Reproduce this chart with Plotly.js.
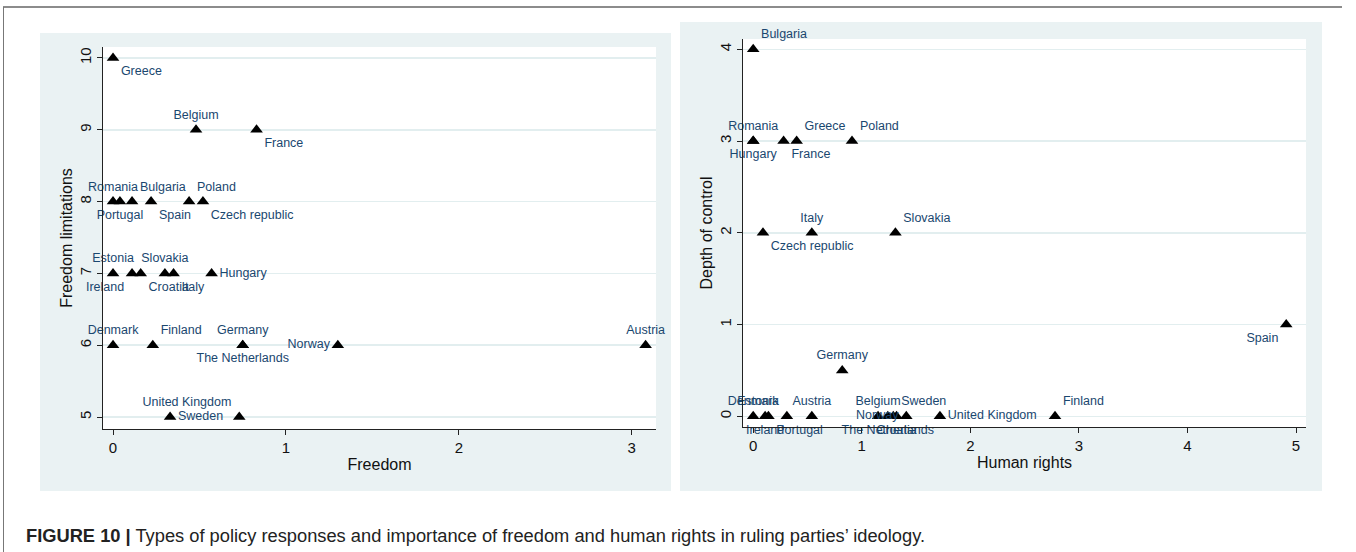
<!DOCTYPE html>
<html>
<head>
<meta charset="utf-8">
<script src="https://cdn.plot.ly/plotly-3.0.1.min.js"></script>
<style>
html,body{margin:0;padding:0;background:#fff;}
#chart{width:1356px;height:552px;}
</style>
</head>
<body>
<div id="chart"></div>
<script>
// ---------- DATA ----------
const leftCountries = ["Greece","Belgium","France","Romania","Portugal","Bulgaria","Spain","Poland","Czech republic","Estonia","Ireland","Croatia","Slovakia","Italy","Hungary","Denmark","Finland","Germany","The Netherlands","Norway","Austria","Sweden","United Kingdom"];
const freedom = [0, 0.48, 0.83, 0, 0.04, 0.11, 0.22, 0.44, 0.52, 0, 0.11, 0.16, 0.30, 0.35, 0.57, 0, 0.23, 0.75, 0.75, 1.30, 3.08, 0.33, 0.73];
const freedomLimitations = [10, 9, 9, 8, 8, 8, 8, 8, 8, 7, 7, 7, 7, 7, 7, 6, 6, 6, 6, 6, 6, 5, 5];

const rightCountries = ["Bulgaria","Romania","Hungary","France","Greece","Poland","Czech republic","Italy","Slovakia","Spain","Germany","Denmark","Ireland","Portugal","Estonia","Austria","Belgium","The Netherlands","Sweden","Croatia","Norway","United Kingdom","Finland"];
const humanRights = [0, 0, 0, 0.28, 0.40, 0.91, 0.09, 0.54, 1.31, 4.91, 0.82, 0, 0.11, 0.14, 0.31, 0.54, 1.15, 1.24, 1.29, 1.32, 1.41, 1.72, 2.78];
const depthOfControl = [4, 3, 3, 3, 3, 3, 2, 2, 2, 1, 0.5, 0, 0, 0, 0, 0, 0, 0, 0, 0, 0, 0, 0];

const leftXTicks = [0, 1, 2, 3];
const leftYTicks = [5, 6, 7, 8, 9, 10];
const rightXTicks = [0, 1, 2, 3, 4, 5];
const rightYTicks = [0, 1, 2, 3, 4];

const captionBold = "FIGURE 10 |";
const captionText = " Types of policy responses and importance of freedom and human rights in ruling parties’ ideology.";

// ---------- LABEL PLACEMENT (style) ----------
const leftLabelPos = ["bottom right","top center","bottom right","top center","bottom center","top right","bottom right","top right","bottom right","top center","bottom left","bottom right","top center","bottom right","middle right","top center","top right","top center","bottom center","middle left","top center","middle right","top left"];
const rightLabelPos = ["top right","top center","bottom center","bottom right","top right","top right","bottom right","top center","top right","bottom left","top center","top center","bottom center","bottom right","top left","top center","top center","bottom center","top right","bottom center","middle left","middle right","top right"];

// ---------- LAYOUT HELPERS ----------
const W = 1356, H = 552;
const fx = p => p / W;
const fy = p => 1 - p / H;
const FONT = "Liberation Sans, Arial, sans-serif";
const LABEL_COLOR = "#1a476f";
const PANEL = "#eaf2f3";
const GRID = "#e2eeef";

const markerStyle = {symbol: "triangle-up", size: 11, color: "#000"};
const textStyle = {family: FONT, size: 12.5, color: LABEL_COLOR};

const traces = [
  {
    type: "scatter", mode: "markers+text",
    x: freedom, y: freedomLimitations, text: leftCountries,
    textposition: leftLabelPos, textfont: textStyle,
    marker: markerStyle, cliponaxis: false, hoverinfo: "skip",
    xaxis: "x", yaxis: "y", showlegend: false
  },
  {
    type: "scatter", mode: "markers+text",
    x: humanRights, y: depthOfControl, text: rightCountries,
    textposition: rightLabelPos, textfont: textStyle,
    marker: markerStyle, cliponaxis: false, hoverinfo: "skip",
    xaxis: "x2", yaxis: "y2", showlegend: false
  }
];

function axisBase(extra) {
  return Object.assign({
    showline: true, linecolor: "#222", linewidth: 1.2,
    ticks: "outside", ticklen: 5, tickcolor: "#222", tickwidth: 1,
    tickfont: {family: FONT, size: 15, color: "#111"},
    zeroline: false, automargin: false, fixedrange: true
  }, extra);
}

// plot areas in pixels
const L = {x0: 103, x1: 656, y0: 47, y1: 429};
const R = {x0: 743, x1: 1306, y0: 39, y1: 427};

const layout = {
  width: W, height: H,
  margin: {l: 0, r: 0, t: 0, b: 0, pad: 0},
  paper_bgcolor: "#fff",
  plot_bgcolor: "rgba(0,0,0,0)",
  showlegend: false,
  xaxis: axisBase({
    domain: [fx(L.x0), fx(L.x1)], range: [-0.058, 3.14],
    tickvals: leftXTicks, showgrid: false, anchor: "y",
    title: {text: "Freedom", font: {family: FONT, size: 16, color: "#111"}, standoff: 3}
  }),
  yaxis: axisBase({
    domain: [fy(L.y1), fy(L.y0)], range: [4.833, 10.153],
    tickvals: leftYTicks, tickangle: -90, showgrid: true, gridcolor: GRID, gridwidth: 1.5, anchor: "x",
    title: {text: "Freedom limitations", font: {family: FONT, size: 16, color: "#111"}, standoff: 0}
  }),
  xaxis2: axisBase({
    domain: [fx(R.x0), fx(R.x1)], range: [-0.094, 5.092],
    tickvals: rightXTicks, showgrid: false, anchor: "y2",
    title: {text: "Human rights", font: {family: FONT, size: 16, color: "#111"}, standoff: 3}
  }),
  yaxis2: axisBase({
    domain: [fy(R.y1), fy(R.y0)], range: [-0.117, 4.112],
    tickvals: rightYTicks, tickangle: -90, showgrid: true, gridcolor: GRID, gridwidth: 1.5, anchor: "x2",
    title: {text: "Depth of control", font: {family: FONT, size: 16, color: "#111"}, standoff: 0}
  }),
  shapes: [
    // outer frame
    {type: "line", xref: "paper", yref: "paper", x0: fx(3), x1: fx(1342), y0: fy(7), y1: fy(7), line: {color: "#666", width: 1.5}, layer: "below"},
    {type: "line", xref: "paper", yref: "paper", x0: fx(3.5), x1: fx(3.5), y0: fy(7), y1: fy(552), line: {color: "#777", width: 1}, layer: "below"},
    // panel backgrounds
    {type: "rect", xref: "paper", yref: "paper", x0: fx(40), x1: fx(671), y0: fy(33), y1: fy(491), fillcolor: PANEL, line: {width: 0}, layer: "below"},
    {type: "rect", xref: "paper", yref: "paper", x0: fx(680), x1: fx(1322), y0: fy(22), y1: fy(491), fillcolor: PANEL, line: {width: 0}, layer: "below"},
    // white plot regions
    {type: "rect", xref: "paper", yref: "paper", x0: fx(L.x0), x1: fx(L.x1), y0: fy(L.y0), y1: fy(L.y1), fillcolor: "#fff", line: {width: 0}, layer: "below"},
    {type: "rect", xref: "paper", yref: "paper", x0: fx(R.x0), x1: fx(R.x1), y0: fy(R.y0), y1: fy(R.y1), fillcolor: "#fff", line: {width: 0}, layer: "below"}
  ],
  annotations: [
    {
      xref: "paper", yref: "paper", x: fx(24), y: fy(535),
      xanchor: "left", yanchor: "middle", showarrow: false,
      text: "<b>" + captionBold + "</b>" + captionText,
      font: {family: "Liberation Sans, Arial, sans-serif", size: 18.3, color: "#222"}
    }
  ]
};

Plotly.newPlot("chart", traces, layout, {staticPlot: true, displayModeBar: false});
</script>
</body>
</html>
